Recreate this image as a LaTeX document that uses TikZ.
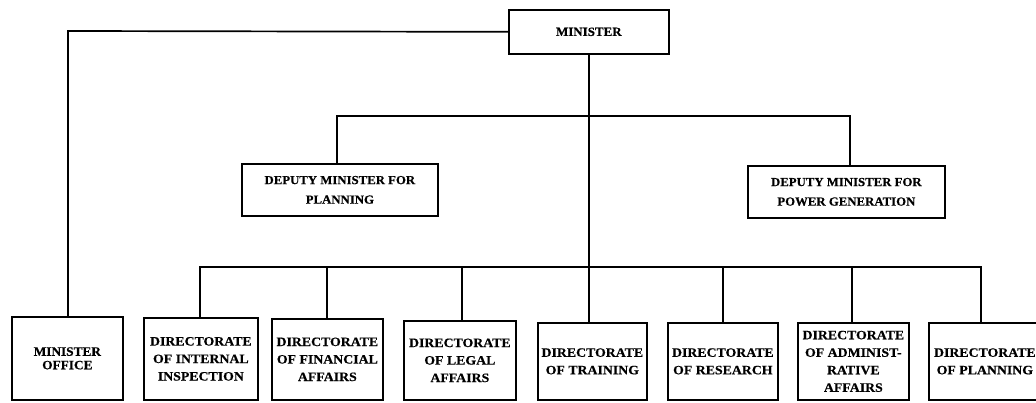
\documentclass[tikz,border=0pt]{standalone}
\usepackage{fontspec}
\setmainfont{Liberation Serif}[FakeStretch=1.04, FakeBold=0.5]
\newfontfamily\dirfont{Liberation Serif}[FakeStretch=1.08, FakeBold=0.4]
\begin{document}
\begin{tikzpicture}[x=1pt,y=-1pt,
  line width=1.7pt,
  orgbox/.style={draw, rectangle, anchor=north west, align=center, inner sep=0pt,
    font=\dirfont\bfseries\fontsize{12.8}{17.5}\selectfont},
  topbox/.style={orgbox, font=\bfseries\fontsize{12.5}{15}\selectfont},
  depbox/.style={orgbox, font=\bfseries\fontsize{12.3}{19.5}\selectfont},
  link/.style={line cap=rect}]
\useasboundingbox (0,0) rectangle (1036,403);
\clip (0,0) rectangle (1036,403);

% top level
\node[topbox, minimum width=160pt, minimum height=44pt] (min) at (508,9) {MINISTER};

% deputy ministers
\node[depbox, minimum width=196pt, minimum height=52pt] (dep1) at (241,163)
  {DEPUTY MINISTER FOR\\PLANNING};
\node[depbox, minimum width=197pt, minimum height=52pt] (dep2) at (747,165)
  {DEPUTY MINISTER FOR\\POWER GENERATION};

% directorates and office
\node[orgbox, minimum width=111pt, minimum height=83pt,
  font=\bfseries\fontsize{12.8}{13.5}\selectfont] (off) at (11,316)
  {MINISTER\\OFFICE};
\node[orgbox, minimum width=114pt, minimum height=82pt] (ins) at (143,317)
  {DIRECTORATE\\OF INTERNAL\\INSPECTION};
\node[orgbox, minimum width=111pt, minimum height=81pt] (fin) at (271,318)
  {DIRECTORATE\\OF FINANCIAL\\AFFAIRS};
\node[orgbox, minimum width=112pt, minimum height=79pt] (leg) at (403,320)
  {DIRECTORATE\\OF LEGAL\\AFFAIRS};
\node[orgbox, minimum width=109pt, minimum height=77pt] (trn) at (537,322)
  {DIRECTORATE\\OF TRAINING};
\node[orgbox, minimum width=110pt, minimum height=77pt] (res) at (667,322)
  {DIRECTORATE\\OF RESEARCH};
\node[orgbox, minimum width=111pt, minimum height=77pt] (adm) at (797,322)
  {DIRECTORATE\\OF ADMINIST-\\RATIVE\\AFFAIRS};
\node[orgbox, minimum width=112pt, minimum height=77pt] (pln) at (928,322)
  {DIRECTORATE\\OF PLANNING};

% bus coordinates
\coordinate (dbL) at (337,116);
\coordinate (dbR) at (850,116);
\coordinate (bL) at (200,267);
\coordinate (bR) at (981,267);
\coordinate (offcorner) at (68,31);

% minister to office
\draw[link] (min.west) -- (offcorner) -- (offcorner |- off.north);
% minister trunk
\draw[link] (min.south) -- (trn.north -| min.south);
% deputy bar
\draw[link] (dbL |- dep1.north) -- (dbL) -- (dbR) -- (dbR |- dep2.north);
% directorate bus
\draw[link] (bL |- ins.north) -- (bL) -- (bR) -- (bR |- pln.north);
\draw[link] (327,267) -- (327,267 |- fin.north);
\draw[link] (462,267) -- (462,267 |- leg.north);
\draw[link] (723,267) -- (723,267 |- res.north);
\draw[link] (852,267) -- (852,267 |- adm.north);
\end{tikzpicture}
\end{document}
